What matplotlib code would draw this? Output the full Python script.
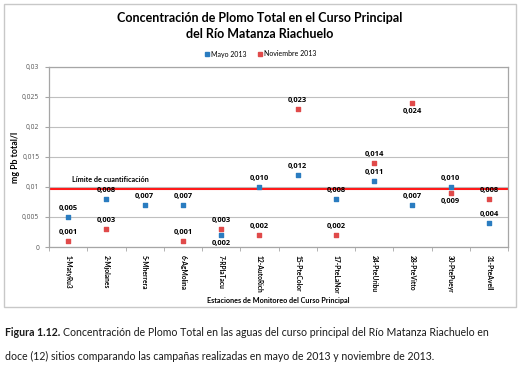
import matplotlib
matplotlib.use("Agg")
import matplotlib.pyplot as plt
import numpy as np
from matplotlib.patches import Rectangle
from matplotlib.lines import Line2D

plt.rcParams['font.family'] = ['Lato', 'DejaVu Sans']
NUM_FONT = ['Open Sans', 'DejaVu Sans']  # commas show better than in Lato at this size

# data
estaciones = ["1-MatyRu3", "2-Mjolanes", "5-Mherrera", "6-AgMolina", "7-RPlaTacu", "12-AutoRich",
              "15-PteColor", "17-PteLaNor", "24-PteUribu", "28-PteVitto", "30-PtePueyr", "31-PteAvell"]
mayo = [0.005, 0.008, 0.007, 0.007, 0.002, 0.010, 0.012, 0.008, 0.011, 0.007, 0.010, 0.004]
noviembre = [0.001, 0.003, np.nan, 0.001, 0.003, 0.002, 0.023, 0.002, 0.014, 0.024, 0.009, 0.008]
# label above (1) or below (-1) the point
pos_mayo = [1, 1, 1, 1, -1, 1, 1, 1, 1, 1, 1, 1]
pos_nov = [1, 1, 1, 1, 1, 1, 1, 1, 1, -1, -1, 1]
limite = 0.0097
yticks = [0, 0.005, 0.01, 0.015, 0.02, 0.025, 0.03]
ytick_labels = ["0", "0,005", "0,01", "0,015", "0,02", "0,025", "0,03"]

c_mayo = "#2a7cc0"
c_nov = "#e04a4a"
grid_c = "#a6a6a6"

W, H = 520, 365
fig = plt.figure(figsize=(W / 100, H / 100), dpi=100)

def fx(px):
    return px / W

def fy(py):
    return 1 - py / H

# chart border
fig.patches.append(Rectangle((fx(4), fy(307)), fx(512), (303) / H, transform=fig.transFigure,
                             fill=False, ec="#c8c8c8", lw=1))

ax = fig.add_axes([fx(49), fy(247), fx(508 - 49), (247 - 67) / H])
x = np.arange(len(estaciones))

ax.set_xlim(-0.5, len(estaciones) - 0.5)
ax.set_ylim(0, 0.03)
ax.set_yticks(yticks)
ax.set_yticklabels(ytick_labels, fontsize=4.8, color="#555555", family=NUM_FONT)
ax.grid(axis="y", color="#bfbfbf", lw=0.8)
ax.set_axisbelow(True)
ax.tick_params(axis="y", length=3, color=grid_c, pad=4)

ax.set_xticks(x)
ax.set_xticklabels(estaciones, rotation=-90, fontsize=4.8, fontweight="bold", va="top", ha="center")
ax.tick_params(axis="x", length=0, pad=6)
ax.set_xticks(np.arange(-0.5, len(estaciones)), minor=True)
ax.tick_params(axis="x", which="minor", length=3, color=grid_c)

for s in ax.spines.values():
    s.set_color(grid_c)
    s.set_linewidth(0.9)

ax.axhline(limite, color="#ff1a1a", lw=1.5, zorder=2)
ax.text(0.1, limite + 0.0009, "Límite de cuantificación", fontsize=5.2, fontweight="bold", va="bottom", ha="left")

ax.scatter(x, mayo, marker="s", s=9, color=c_mayo, zorder=3)
ax.scatter(x, noviembre, marker="s", s=9, color=c_nov, zorder=3)

def etiqueta(v):
    return ("%.3f" % v).replace(".", ",")

for xi, v, p in zip(x, mayo, pos_mayo):
    ax.annotate(etiqueta(v), (xi, v), xytext=(0, 3.8 * p), textcoords="offset points", family=NUM_FONT,
                ha="center", va="bottom" if p > 0 else "top", fontsize=5.4, fontweight="bold")
for xi, v, p in zip(x, noviembre, pos_nov):
    if np.isnan(v):
        continue
    ax.annotate(etiqueta(v), (xi, v), xytext=(0, 3.8 * p), textcoords="offset points", family=NUM_FONT,
                ha="center", va="bottom" if p > 0 else "top", fontsize=5.4, fontweight="bold")

ax.set_ylabel("mg Pb total/l", fontsize=6.3, fontweight="bold")
ax.yaxis.set_label_coords(-29 / 459, 0.5)
ax.set_xlabel("Estaciones de Monitoreo del Curso Principal", fontsize=5.2, fontweight="bold", labelpad=2)

fig.text(0.5, fy(26), "Concentración de Plomo Total en el Curso Principal\ndel Río Matanza Riachuelo",
         ha="center", va="center", fontsize=9, fontweight="bold", linespacing=1.45)

handles = [Line2D([], [], marker="s", ls="", color=c_mayo, markersize=3.2),
           Line2D([], [], marker="s", ls="", color=c_nov, markersize=3.2)]
fig.legend(handles, ["Mayo 2013", "Noviembre 2013"], loc="center", bbox_to_anchor=(0.5, fy(54)),
           ncol=2, fontsize=5, frameon=False, handletextpad=0.1, columnspacing=1.5, handlelength=1)

# caption below the chart
t1 = fig.text(fx(5), fy(333), "Figura 1.12.", fontsize=7.6, fontweight="bold", color="#1a1a1a", va="center")
fig.canvas.draw()
bb = t1.get_window_extent()
fig.text((bb.x1 + 3) / W, fy(333),
         "Concentración de Plomo Total en las aguas del curso principal del Río Matanza Riachuelo en",
         fontsize=7.6, color="#1a1a1a", va="center")
fig.text(fx(5), fy(356), "doce (12) sitios comparando las campañas realizadas en mayo de 2013 y noviembre de 2013.",
         fontsize=7.6, color="#1a1a1a", va="center")

fig.savefig("out.png", dpi=100)
